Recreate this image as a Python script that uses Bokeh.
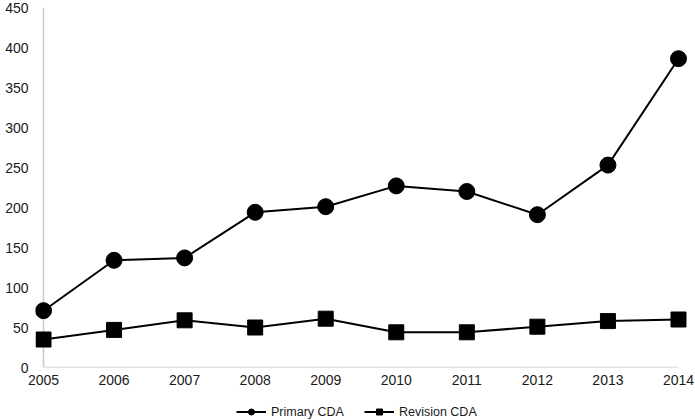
from bokeh.plotting import figure
from bokeh.layouts import column
from bokeh.models import Legend, LegendItem, Range1d, FixedTicker
from bokeh.embed import file_html
from bokeh.resources import INLINE

years = [2005, 2006, 2007, 2008, 2009, 2010, 2011, 2012, 2013, 2014]
primary_cda = [71, 134, 137, 194, 201, 227, 220, 191, 253, 386]
revision_cda = [35, 47, 59, 50, 61, 44, 44, 51, 58, 60]
y_ticks = [0, 50, 100, 150, 200, 250, 300, 350, 400, 450]

FONT = "Liberation Sans"
AXIS_COLOR = "#c4ccd4"
TEXT_COLOR = "#1a1a1a"

# small padding in x so that end markers are not clipped by the frame
x_pad_left = 0.1134
x_pad_right = 0.1276

p = figure(width=695, height=392,
           output_backend="svg", toolbar_location=None,
           x_range=Range1d(years[0] - x_pad_left, years[-1] + x_pad_right),
           y_range=Range1d(0, y_ticks[-1]),
           min_border_left=35, min_border_right=8, min_border_top=7,
           min_border_bottom=25)
p.outline_line_color = None
p.xgrid.visible = False
p.ygrid.visible = False

for ax in (p.xaxis[0], p.yaxis[0]):
    ax.axis_line_color = None
    ax.major_tick_line_color = None
    ax.minor_tick_line_color = None
    ax.major_tick_out = 0
    ax.major_tick_in = 0
    ax.minor_tick_out = 0
    ax.major_label_text_font = FONT
    ax.major_label_text_font_size = "14px"
    ax.major_label_text_color = TEXT_COLOR

p.xaxis.ticker = FixedTicker(ticks=years)
p.yaxis.ticker = FixedTicker(ticks=y_ticks)
p.xaxis.major_label_standoff = 7
p.yaxis.major_label_standoff = 7

# axis lines spanning exactly the data extent
p.segment(x0=[years[0], years[0]], y0=[0, 0],
          x1=[years[-1], years[0]], y1=[0, y_ticks[-1]],
          line_color=AXIS_COLOR, line_width=1.5)

p.line(years, primary_cda, line_color="black", line_width=2)
p.scatter(years, primary_cda, marker="circle", size=16,
          fill_color="black", line_color="black")
p.line(years, revision_cda, line_color="black", line_width=2)
p.scatter(years, revision_cda, marker="square", size=15,
          fill_color="black", line_color="black")

# legend strip below the chart (its series lie outside its view range,
# so only the legend itself is visible)
lg = figure(width=695, height=27, output_backend="svg", toolbar_location=None,
            x_axis_type=None, y_axis_type=None,
            x_range=Range1d(0, 1), y_range=Range1d(0, 1),
            min_border_left=35, min_border_right=8, min_border_top=0,
            min_border_bottom=0)
lg.outline_line_color = None
lg.xgrid.visible = False
lg.ygrid.visible = False
ll1 = lg.line(years, primary_cda, line_color="black", line_width=2)
ls1 = lg.scatter(years, primary_cda, marker="circle", size=16,
                 fill_color="black", line_color="black")
ll2 = lg.line(years, revision_cda, line_color="black", line_width=2)
ls2 = lg.scatter(years, revision_cda, marker="square", size=15,
                 fill_color="black", line_color="black")

legend = Legend(items=[
    LegendItem(label="Primary CDA", renderers=[ll1, ls1]),
    LegendItem(label="Revision CDA", renderers=[ll2, ls2]),
], orientation="horizontal", location=(201, 0))
legend.margin = 0
legend.padding = 0
legend.spacing = 20
legend.glyph_width = 30
legend.glyph_height = 15
legend.label_height = 14
legend.label_standoff = 5
legend.label_text_font = FONT
legend.label_text_font_size = "12.5px"
legend.label_text_color = TEXT_COLOR
legend.border_line_color = None
legend.background_fill_alpha = 0
lg.add_layout(legend)

layout = column(p, lg, spacing=0)
open("out.html", "w").write(file_html(layout, INLINE))
